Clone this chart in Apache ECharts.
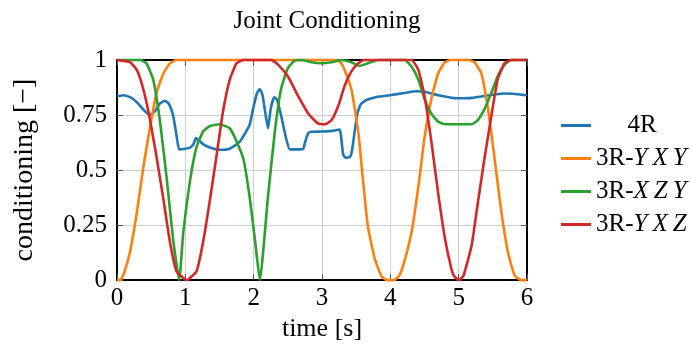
<!DOCTYPE html>
<html>
<head>
<meta charset="utf-8">
<script src="https://cdn.jsdelivr.net/npm/echarts@6/dist/echarts.min.js"></script>
<style>
  html, body { margin: 0; padding: 0; background: #fff; }
  #chart { width: 692px; height: 347px; }
</style>
</head>
<body>
<div id="chart"></div>
<script>
// 4R
var t4R = [0, 0.1, 0.2, 0.3, 0.4, 0.48, 0.55, 0.62, 0.7, 0.76, 0.82, 0.87, 0.91, 1.0, 1.07, 1.12, 1.155, 1.2, 1.26, 1.36, 1.5, 1.65, 1.8, 1.94,
  2.0, 2.05, 2.09, 2.13, 2.18, 2.21, 2.25, 2.3, 2.34, 2.4, 2.47, 2.53, 2.72, 2.76, 2.8, 2.85, 3.0, 3.15, 3.26, 3.28, 3.31, 3.35, 3.41, 3.44,
  3.48, 3.52, 3.57, 3.65, 3.8, 3.99, 4.2, 4.38, 4.5, 4.7, 4.97, 5.2, 5.45, 5.65, 5.8, 6.0];
var v4R = [0.835, 0.84, 0.83, 0.805, 0.77, 0.75, 0.765, 0.8, 0.815, 0.8, 0.75, 0.66, 0.594, 0.597, 0.602, 0.618, 0.645, 0.635, 0.618, 0.602, 0.592, 0.597, 0.63, 0.705,
  0.79, 0.85, 0.868, 0.84, 0.74, 0.69, 0.78, 0.83, 0.82, 0.75, 0.65, 0.594, 0.595, 0.635, 0.668, 0.674, 0.675, 0.678, 0.684, 0.65, 0.57, 0.555, 0.56, 0.59,
  0.68, 0.76, 0.8, 0.818, 0.832, 0.84, 0.85, 0.858, 0.856, 0.84, 0.826, 0.828, 0.84, 0.848, 0.847, 0.84];

// 3R-YXY
var tYXY = [0, 0.05, 0.1, 0.19, 0.29, 0.385, 0.48, 0.58, 0.68, 0.775, 0.87, 0.95, 3.2, 3.27, 3.33, 3.43, 3.53, 3.6, 3.67, 3.77, 3.87, 3.95,
  4.05, 4.13, 4.21, 4.31, 4.41, 4.5, 4.6, 4.7, 4.8, 4.88, 5.15, 5.23, 5.33, 5.43, 5.53, 5.62, 5.72, 5.82, 5.92, 6.0];
var vYXY = [0, 0, 0.03, 0.128, 0.306, 0.513, 0.69, 0.853, 0.94, 0.985, 1, 1, 1, 0.99, 0.955, 0.867, 0.675, 0.454, 0.247, 0.099, 0.018, 0,
  0, 0.02, 0.09, 0.217, 0.424, 0.646, 0.823, 0.94, 0.99, 1, 1, 0.99, 0.94, 0.778, 0.542, 0.32, 0.128, 0.02, 0, 0];

// 3R-XZY
var tXZY = [0, 0.34, 0.43, 0.53, 0.63, 0.73, 0.82, 0.91, 0.97, 1.07, 1.16, 1.26, 1.36, 1.5, 1.65, 1.75, 1.85, 1.94, 2.02, 2.09, 2.21, 2.31,
  2.4, 2.5, 2.6, 2.7, 2.85, 2.99, 3.14, 3.28, 3.43, 3.55, 3.67, 3.82, 4.21, 4.31, 4.41, 4.5, 4.6, 4.7, 4.8, 5.19, 5.28, 5.38, 5.48, 5.57,
  5.67, 5.77, 6.0];
var vXZY = [1, 1, 0.985, 0.911, 0.72, 0.454, 0.188, 0, 0.217, 0.454, 0.601, 0.675, 0.7, 0.708, 0.69, 0.63, 0.55, 0.38, 0.18, 0, 0.38, 0.675,
  0.867, 0.963, 0.997, 1, 0.99, 0.985, 0.99, 1, 0.99, 0.973, 0.985, 1, 1, 0.97, 0.911, 0.823, 0.756, 0.72, 0.708, 0.708, 0.727, 0.778, 0.852, 0.926,
  0.978, 1, 1];

// 3R-YXZ
var tYXZ = [0, 0.19, 0.29, 0.385, 0.48, 0.58, 0.68, 0.775, 0.87, 0.97, 1.02, 1.07, 1.165, 1.26, 1.36, 1.46, 1.55, 1.65, 1.75, 1.85, 2.26,
  2.36, 2.5, 2.65, 2.8, 2.94, 3.04, 3.14, 3.24, 3.33, 3.43, 3.53, 3.62, 4.31, 4.41, 4.5, 4.6, 4.7, 4.8, 4.89, 4.93, 5.0, 5.07, 5.19, 5.28,
  5.38, 5.48, 5.57, 5.67, 5.77, 6.0];
var vYXZ = [1, 0.99, 0.955, 0.867, 0.734, 0.557, 0.365, 0.173, 0.04, 0.01, 0, 0.01, 0.04, 0.173, 0.365, 0.572, 0.764, 0.911, 0.985, 1, 1,
  0.978, 0.926, 0.837, 0.756, 0.712, 0.708, 0.727, 0.793, 0.882, 0.948, 0.985, 1, 1, 0.955, 0.837, 0.631, 0.394, 0.188, 0.055, 0.02, 0, 0.02, 0.158, 0.35,
  0.557, 0.749, 0.911, 0.985, 1, 1];

var seriesNames = ['4R', '3R-YXY', '3R-XZY', '3R-YXZ'];
var seriesColors = ['#1f77b4', '#ff7f0e', '#2ca02c', '#d62728'];
var seriesT = [t4R, tYXY, tXZY, tYXZ];
var seriesV = [v4R, vYXY, vXZY, vYXZ];

var font = 'Liberation Serif';

function zip(t, v) {
  return t.map(function (x, i) { return [x, v[i]]; });
}

var frameAxis = {
  type: 'value',
  axisLine: { show: true, onZero: false, lineStyle: { color: '#000', width: 2 } },
  axisTick: { show: true, inside: true, length: 6, lineStyle: { color: '#555', width: 1 } },
  splitLine: { show: false },
  axisLabel: { show: false }
};

var chart = echarts.init(document.getElementById('chart'));

chart.setOption({
  animation: false,
  title: {
    text: 'Joint Conditioning',
    left: 322,
    top: 4,
    textAlign: 'center',
    textStyle: { fontFamily: font, fontSize: 25, fontWeight: 'normal', color: '#000' }
  },
  grid: { left: 117, right: 165, top: 60, bottom: 61 },
  legend: {
    orient: 'vertical',
    left: 556,
    top: 108,
    icon: 'rect',
    itemWidth: 30,
    itemHeight: 3,
    itemGap: 8,
    data: seriesNames,
    formatter: function (name) {
      if (name === '4R') return '{c|4R}';
      return '{n|3R-}{i|' + name.slice(3).split('').join('\u2009') + '}';
    },
    textStyle: {
      fontFamily: font, fontSize: 25, color: '#000',
      rich: {
        c: { fontFamily: font, fontSize: 25, width: 92, align: 'center' },
        n: { fontFamily: font, fontSize: 25 },
        i: { fontFamily: font, fontSize: 25, fontStyle: 'italic' }
      }
    }
  },
  xAxis: [
    {
      type: 'value', min: 0, max: 6, interval: 1,
      name: 'time [s]', nameLocation: 'middle', nameGap: 32,
      nameTextStyle: { fontFamily: font, fontSize: 26, color: '#000' },
      axisLine: { show: true, onZero: false, lineStyle: { color: '#000', width: 2 } },
      axisTick: { show: true, inside: true, length: 6, lineStyle: { color: '#555', width: 1 } },
      axisLabel: { fontFamily: font, fontSize: 25, color: '#000', margin: 6 },
      splitLine: { show: true, lineStyle: { color: '#cfcfcf', width: 1 } }
    },
    Object.assign({}, frameAxis, { position: 'top', min: 0, max: 6, interval: 1 })
  ],
  yAxis: [
    {
      type: 'value', min: 0, max: 1, interval: 0.25,
      name: 'conditioning [\u2212]', nameLocation: 'middle', nameGap: 78,
      nameTextStyle: { fontFamily: font, fontSize: 28, color: '#000' },
      axisLine: { show: true, onZero: false, lineStyle: { color: '#000', width: 2 } },
      axisTick: { show: true, inside: true, length: 6, lineStyle: { color: '#555', width: 1 } },
      axisLabel: { fontFamily: font, fontSize: 25, color: '#000', margin: 10 },
      splitLine: { show: true, lineStyle: { color: '#cfcfcf', width: 1 } }
    },
    Object.assign({}, frameAxis, { position: 'right', min: 0, max: 1, interval: 0.25 })
  ],
  series: seriesNames.map(function (name, k) {
    return {
      name: name,
      type: 'line',
      data: zip(seriesT[k], seriesV[k]),
      showSymbol: false,
      symbol: 'none',
      smooth: 0.15,
      clip: false,
      color: seriesColors[k],
      lineStyle: { width: 2.6, color: seriesColors[k] }
    };
  })
});
</script>
</body>
</html>
